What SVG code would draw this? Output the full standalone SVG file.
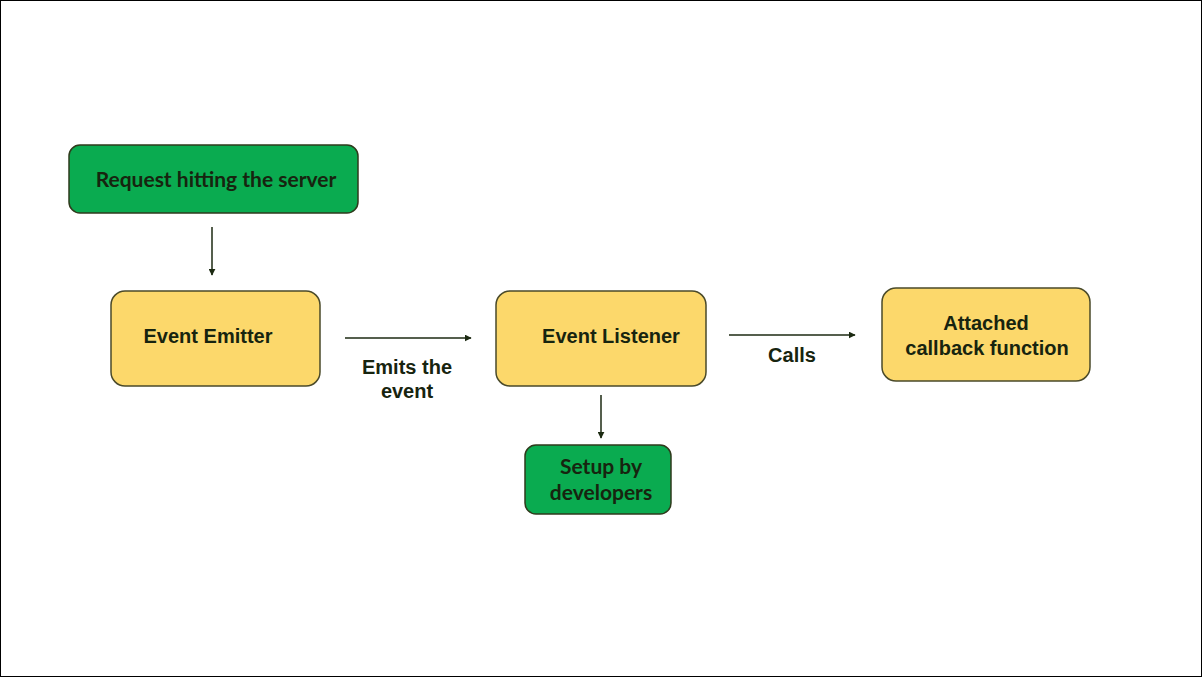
<svg xmlns="http://www.w3.org/2000/svg" width="1202" height="677" viewBox="0 0 1202 677">
<defs>
<style>
.green{fill:#0aab50;stroke:#2f3a1c;stroke-width:1.5}
.yellow{fill:#fcd86b;stroke:#4a4a2a;stroke-width:1.5}
.t1{font-family:Lato,"Open Sans",sans-serif;font-weight:bold;font-size:21px;fill:#17240f;text-anchor:middle}
.t2{font-family:"Liberation Sans",Arial,sans-serif;font-weight:bold;font-size:20px;fill:#17240f;text-anchor:middle}
.conn{stroke:#1c2a12;stroke-width:1.5;fill:none;marker-end:url(#ah)}
</style>
<marker id="ah" viewBox="0 0 10 10" refX="9" refY="5" markerWidth="7" markerHeight="7" markerUnits="userSpaceOnUse" orient="auto">
<path d="M0,0 L10,5 L0,10 z" fill="#1c2a12"/>
</marker>
</defs>
<rect x="0.5" y="0.5" width="1201" height="676" fill="#ffffff" stroke="#000000" stroke-width="1"/>
<g id="connectors">
<line class="conn" x1="212" y1="227" x2="212" y2="275"/>
<line class="conn" x1="345" y1="338" x2="471" y2="338"/>
<line class="conn" x1="601" y1="395" x2="601" y2="438"/>
<line class="conn" x1="729" y1="335" x2="855" y2="335"/>
<text class="t2" x="407" y="374">Emits the</text>
<text class="t2" x="407" y="398">event</text>
<text class="t2" x="792" y="362">Calls</text>
</g>
<g id="request">
<rect class="green" x="69" y="145" width="289" height="68" rx="11"/>
<text class="t1" x="216" y="187">Request hitting the server</text>
</g>
<g id="emitter">
<rect class="yellow" x="111" y="291" width="209" height="95" rx="14"/>
<text class="t2" x="208" y="343">Event Emitter</text>
</g>
<g id="listener">
<rect class="yellow" x="496" y="291" width="210" height="95" rx="14"/>
<text class="t2" x="611" y="343">Event Listener</text>
</g>
<g id="setup">
<rect class="green" x="525" y="445" width="146" height="69" rx="11"/>
<text class="t1" x="601" y="474">Setup by</text>
<text class="t1" x="601" y="500">developers</text>
</g>
<g id="callback">
<rect class="yellow" x="882" y="288" width="208" height="93" rx="14"/>
<text class="t2" x="986" y="330">Attached</text>
<text class="t2" x="987" y="355">callback function</text>
</g>
</svg>
